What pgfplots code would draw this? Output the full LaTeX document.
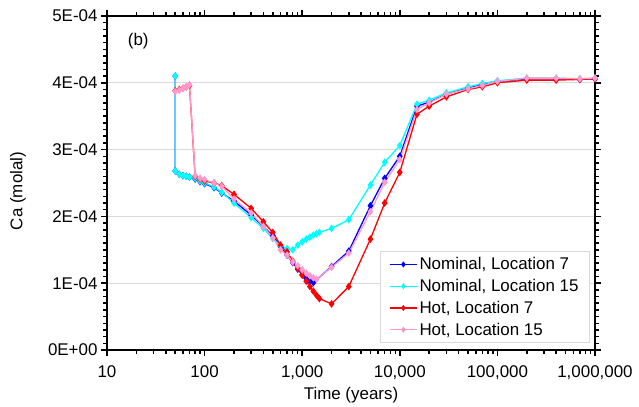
\documentclass[border=0pt]{standalone}
\usepackage{fontspec}
\setmainfont{Liberation Sans}
\usepackage{pgfplots}
\pgfplotsset{compat=1.18}
\definecolor{cBlue}{RGB}{0,0,255}
\definecolor{cCyan}{RGB}{0,255,255}
\definecolor{cRed}{RGB}{255,0,0}
\definecolor{cPink}{RGB}{255,153,204}
\definecolor{gridgray}{RGB}{217,217,217}
\begin{document}
\begin{tikzpicture}
\begin{axis}[
  scale only axis, width=488bp, height=334bp,
  xmode=log, xmin=10, xmax=1000000,
  ymin=0, ymax=5e-4,
  xtick={10,100,1000,10000,100000,1000000},
  xticklabels={10,100,{1,000},{10,000},{100,000},{1,000,000}},
  minor xtick={20,30,40,50,60,70,80,90,200,300,400,500,600,700,800,900,2000,3000,4000,5000,6000,7000,8000,9000,20000,30000,40000,50000,60000,70000,80000,90000,200000,300000,400000,500000,600000,700000,800000,900000},
  ytick={0,1e-4,2e-4,3e-4,4e-4,5e-4},
  yticklabels={0E+00,1E-04,2E-04,3E-04,4E-04,5E-04},
  minor y tick num=9,
  scaled y ticks=false,
  ymajorgrids=true,
  major grid style={gridgray, line width=0.8bp},
  tick align=outside,
  major tick length=6bp, minor tick length=4bp,
  tick style={black, line width=1.5bp},
  separate axis lines,
  axis line style={black, line width=2.4bp},
  tick label style={font=\fontsize{17}{20}\selectfont},
  xticklabel style={yshift=-6bp},
  xlabel={Time (years)}, ylabel={Ca (molal)},
  every axis x label/.style={at={(rel axis cs:0.5,0)}, anchor=center, yshift=-45bp, font=\fontsize{17}{20}\selectfont},
  every axis y label/.style={at={(rel axis cs:0,0.5)}, anchor=center, xshift=-89bp, yshift=-8bp, rotate=90, font=\fontsize{17}{20}\selectfont},
  legend style={at={(rel axis cs:1,0)}, anchor=south east, xshift=-5bp, yshift=7bp,
    draw=gridgray, line width=0.8bp, font=\fontsize{17}{19}\selectfont, row sep=4bp, inner xsep=9bp, inner ysep=4bp},
  legend cell align=left,
  legend image code/.code={\draw[mark repeat=2,mark phase=2, mark size=2bp] plot coordinates {(0bp,0bp) (13.5bp,0bp) (27bp,0bp)};},
  every axis plot/.append style={line width=1.3bp, mark=diamond*, mark size=2.8bp, mark options={solid}},
]
\addplot[color=cBlue] coordinates {
(50,4.10e-4)(50,2.68e-4)(55,2.63e-4)(60,2.61e-4)(65,2.60e-4)(70,2.59e-4)(80,2.56e-4)(90,2.52e-4)(100,2.49e-4)(125,2.43e-4)(150,2.35e-4)(200,2.23e-4)(300,2.02e-4)(400,1.85e-4)(500,1.71e-4)(600,1.55e-4)(700,1.42e-4)(800,1.31e-4)(900,1.21e-4)(1000,1.13e-4)(1100,1.07e-4)(1200,1.03e-4)(1300,1.01e-4)(2000,1.25e-4)(3000,1.48e-4)(5000,2.16e-4)(7000,2.57e-4)(10000,2.90e-4)(15000,3.65e-4)(20000,3.71e-4)(30000,3.83e-4)(50000,3.92e-4)(70000,3.97e-4)(100000,4.02e-4)(200000,4.06e-4)(400000,4.06e-4)(700000,4.05e-4)(1000000,4.06e-4)
};
\addlegendentry{Nominal, Location 7}
\addplot[color=cCyan] coordinates {
(50,4.10e-4)(50,2.68e-4)(55,2.63e-4)(60,2.61e-4)(65,2.60e-4)(70,2.59e-4)(80,2.57e-4)(90,2.53e-4)(100,2.50e-4)(125,2.44e-4)(150,2.36e-4)(200,2.20e-4)(300,1.98e-4)(400,1.82e-4)(500,1.67e-4)(600,1.56e-4)(700,1.52e-4)(800,1.50e-4)(900,1.57e-4)(1000,1.62e-4)(1100,1.66e-4)(1200,1.69e-4)(1300,1.72e-4)(1400,1.74e-4)(1500,1.76e-4)(2000,1.82e-4)(3000,1.95e-4)(5000,2.47e-4)(7000,2.81e-4)(10000,3.06e-4)(15000,3.68e-4)(20000,3.74e-4)(30000,3.85e-4)(50000,3.94e-4)(70000,3.99e-4)(100000,4.03e-4)(200000,4.07e-4)(400000,4.07e-4)(700000,4.06e-4)(1000000,4.07e-4)
};
\addlegendentry{Nominal, Location 15}
\addplot[color=cRed] coordinates {
(50,3.88e-4)(55,3.90e-4)(60,3.92e-4)(65,3.94e-4)(70,3.96e-4)(80,2.60e-4)(90,2.56e-4)(100,2.53e-4)(125,2.50e-4)(150,2.46e-4)(200,2.33e-4)(300,2.12e-4)(400,1.92e-4)(500,1.76e-4)(600,1.57e-4)(700,1.47e-4)(800,1.33e-4)(900,1.22e-4)(1000,1.12e-4)(1100,1.03e-4)(1200,0.95e-4)(1300,0.88e-4)(1400,0.82e-4)(1500,0.77e-4)(2000,0.69e-4)(3000,0.95e-4)(5000,1.66e-4)(7000,2.20e-4)(10000,2.66e-4)(15000,3.53e-4)(20000,3.65e-4)(30000,3.79e-4)(50000,3.90e-4)(70000,3.94e-4)(100000,4.00e-4)(200000,4.04e-4)(400000,4.04e-4)(700000,4.05e-4)(1000000,4.06e-4)
};
\addlegendentry{Hot, Location 7}
\addplot[color=cPink] coordinates {
(50,3.87e-4)(55,3.89e-4)(60,3.92e-4)(65,3.94e-4)(70,3.97e-4)(80,2.61e-4)(90,2.57e-4)(100,2.55e-4)(125,2.50e-4)(150,2.45e-4)(200,2.26e-4)(300,2.05e-4)(400,1.85e-4)(500,1.68e-4)(600,1.50e-4)(700,1.42e-4)(800,1.32e-4)(900,1.26e-4)(1000,1.20e-4)(1100,1.15e-4)(1200,1.11e-4)(1300,1.08e-4)(1400,1.06e-4)(2000,1.24e-4)(3000,1.45e-4)(5000,2.07e-4)(7000,2.51e-4)(10000,2.85e-4)(15000,3.60e-4)(20000,3.70e-4)(30000,3.83e-4)(50000,3.91e-4)(70000,3.96e-4)(100000,4.02e-4)(200000,4.07e-4)(400000,4.07e-4)(700000,4.06e-4)(1000000,4.07e-4)
};
\addlegendentry{Hot, Location 15}
\node[font=\fontsize{17}{20}\selectfont] at (rel axis cs:0.064,0.925) {(b)};
\end{axis}
\path ([shift={(-107bp,-56bp)}]current axis.south west) rectangle ([shift={(44bp,16bp)}]current axis.north east);
\end{tikzpicture}
\end{document}
